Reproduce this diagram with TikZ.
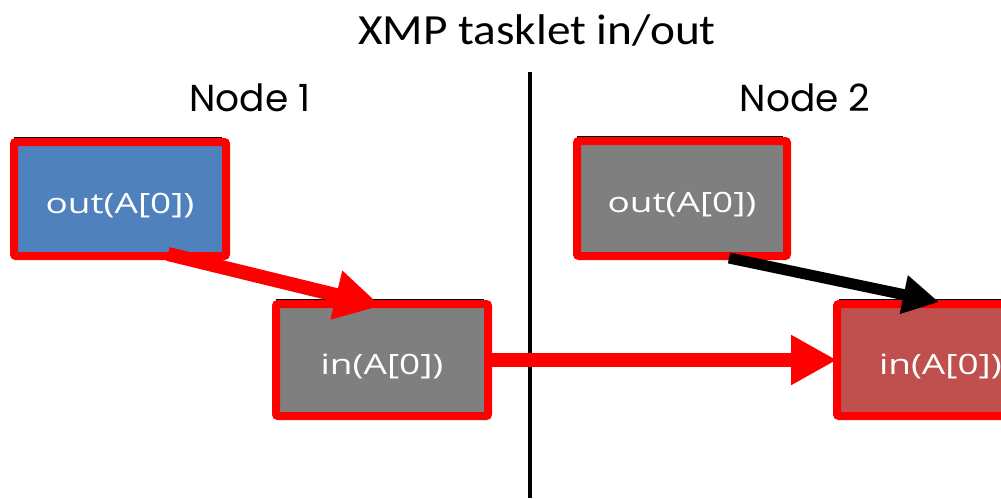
\documentclass[tikz,border=0pt]{standalone}
\usepackage{fontspec}
\usepackage{graphicx}
\setmainfont{Open Sans}
\newfontfamily\titlefont{Carlito}
\newfontfamily\nodefont{Poppins}
\usetikzlibrary{arrows.meta,calc}
\definecolor{boxblue}{HTML}{4F81BD}
\definecolor{boxgray}{HTML}{7F7F7F}
\definecolor{boxred}{HTML}{C0504D}
\definecolor{hot}{HTML}{FF0000}
\newcommand{\boxtext}[1]{\scalebox{1.32}[1]{#1}}
\tikzset{
  tbox/.style={draw=hot, line width=8pt, rounded corners=2pt, minimum width=212pt, minimum height=114pt,
    text=white, font=\fontsize{28}{32}\selectfont, inner sep=0pt, outer sep=0pt,
    text height=30pt, text depth=2pt},
  shadowline/.style={draw=black, line width=1.6pt},
  fatred/.style={draw=hot, line width=14pt, -{Triangle[length=46pt,width=47pt]}},
  fatblack/.style={draw=black, line width=11pt, -{Triangle[length=36pt,width=37pt]}},
  lbl/.style={font=\nodefont\fontsize{37.5}{40}\selectfont, inner sep=0pt, anchor=base},
}
\begin{document}
\begin{tikzpicture}[x=1pt,y=-1pt]
\useasboundingbox (0,0) rectangle (1001,498);
% shadows
\draw[shadowline] (14,138) -- (221,138) -- (221,256);
\draw[shadowline] (276,300) -- (483,300) -- (483,416);
\draw[shadowline] (577,137) -- (782,137) -- (782,256);
\draw[shadowline] (839,300) -- (1046,300);
% boxes
\node[tbox, fill=boxblue] (b1) at (120,199) {\boxtext{out(A[0])}};
\node[tbox, fill=boxgray, minimum height=112pt] (b2) at (382,360) {\boxtext{in(A[0])}};
\node[tbox, fill=boxgray, minimum width=210pt, minimum height=115pt] (b3) at (682,198.5) {\boxtext{out(A[0])}};
\node[tbox, fill=boxred, minimum height=112pt, text width=212pt, align=left] (b4) at (943,360) {\hspace*{42pt}\boxtext{in(A[0])}};
% labels
\node[font=\titlefont\fontsize{43}{46}\selectfont, inner sep=0pt, anchor=base] (title) at (537,44) {\scalebox{1.1}[1]{XMP tasklet in/out}};
\node[lbl] (n1) at (250,111) {Node 1};
\node[lbl] (n2) at (805,111) {Node 2};
% divider
\coordinate (dtop) at (530,72);
\coordinate (dbot) at (530,498);
\draw[line width=4pt] (dtop) -- (dbot);
% arrows
\draw[fatred] ($(b1.south east)+(-58,-2)$) -- ($(b2.north west)+(105,2)$);
\draw[fatblack] ($(b3.south east)+(-58,2)$) -- ($(b4.north west)+(102,-2)$);
\draw[fatred] (b2.east) -- (b4.west);
\end{tikzpicture}
\end{document}
